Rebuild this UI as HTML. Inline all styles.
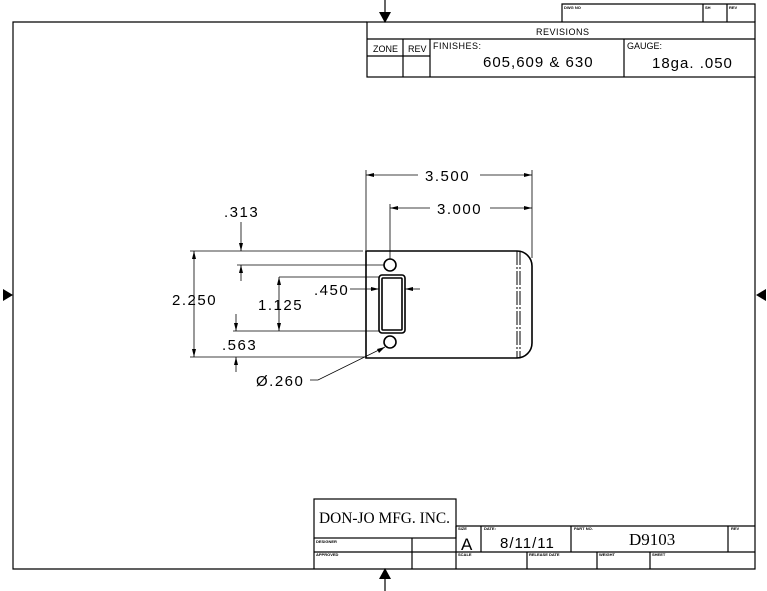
<!DOCTYPE html>
<html><head><style>
html,body{margin:0;padding:0;background:#fff;}
svg{display:block;}
text{font-family:"Liberation Sans",sans-serif;fill:#000;}
.s{font-size:4px;font-weight:bold;}
</style></head><body>
<svg width="767" height="591" viewBox="0 0 767 591" xmlns="http://www.w3.org/2000/svg">
<g stroke="#000" fill="none" stroke-width="1.2">
<polyline points="367,22 13,22 13,569 755,569 755,77"/>
<polyline points="562,22 562,4 755,4 755,22"/>
<line x1="703" y1="4" x2="703" y2="22"/><line x1="727" y1="4" x2="727" y2="22"/>
<rect x="367" y="22" width="388" height="55"/>
<line x1="367" y1="39" x2="755" y2="39"/>
<line x1="367" y1="56" x2="430" y2="56"/>
<line x1="403" y1="39" x2="403" y2="77"/>
<line x1="430" y1="39" x2="430" y2="77"/>
<line x1="624" y1="39" x2="624" y2="77"/>
<rect x="314" y="499" width="142" height="39"/>
<line x1="314" y1="538" x2="314" y2="569"/>
<line x1="314" y1="552" x2="755" y2="552"/>
<line x1="456" y1="526" x2="755" y2="526"/>
<line x1="456" y1="526" x2="456" y2="569"/>
<line x1="412" y1="538" x2="412" y2="569"/>
<line x1="481" y1="526" x2="481" y2="552"/>
<line x1="571" y1="526" x2="571" y2="552"/>
<line x1="728" y1="526" x2="728" y2="552"/>
<line x1="527" y1="552" x2="527" y2="569"/>
<line x1="597" y1="552" x2="597" y2="569"/>
<line x1="650" y1="552" x2="650" y2="569"/>
<line x1="385" y1="0" x2="385" y2="12"/>
<line x1="385" y1="579" x2="385" y2="591"/>
</g>
<g fill="#000">
<polygon points="379,12 391,12 385,23"/>
<polygon points="379,579 391,579 385,568"/>
<polygon points="3,289 3,301 13,295"/>
<polygon points="766,289 766,301 756,295"/>
</g>
<g stroke="#000" fill="none" stroke-width="1.6">
<path d="M366,251 H517 A15,15 0 0 1 532,266 V343 A15,15 0 0 1 517,358 H366 Z"/>
<circle cx="390" cy="265" r="6"/>
<circle cx="390" cy="342" r="6"/>
<rect x="379" y="275" width="26" height="58" rx="3"/>
<rect x="382" y="278" width="20" height="52" rx="1"/>
</g>
<g stroke="#000" stroke-width="0.8" fill="none">
<line x1="517" y1="251" x2="517" y2="358" stroke-dasharray="14,2,2,2" stroke-width="1"/>
<line x1="520" y1="251" x2="520" y2="358" stroke-dasharray="14,2,2,2" stroke-width="1"/>
<line x1="366" y1="170" x2="366" y2="250"/>
<line x1="532" y1="170" x2="532" y2="258"/>
<line x1="366" y1="175" x2="418" y2="175"/><line x1="480" y1="175" x2="532" y2="175"/>
<line x1="390" y1="204" x2="390" y2="259"/>
<line x1="390" y1="208" x2="430" y2="208"/><line x1="490" y1="208" x2="532" y2="208"/>
<line x1="190" y1="251" x2="363" y2="251"/>
<line x1="190" y1="357" x2="366" y2="357"/>
<line x1="194" y1="251" x2="194" y2="357"/>
<line x1="241" y1="222" x2="241" y2="251"/>
<line x1="237" y1="265" x2="384" y2="265"/>
<line x1="241" y1="265" x2="241" y2="281"/>
<line x1="279" y1="277" x2="379" y2="277"/>
<line x1="233" y1="331" x2="379" y2="331"/>
<line x1="279" y1="277" x2="279" y2="331"/>
<line x1="236" y1="314" x2="236" y2="331"/>
<line x1="236" y1="357" x2="236" y2="372"/>
<line x1="350" y1="289" x2="379" y2="289"/>
<line x1="405" y1="289" x2="420" y2="289"/>
<polyline points="310,380 318,380 385,347"/>
</g>
<g fill="#000">
<polygon points="366,175 374,173 374,177"/><polygon points="532,175 524,173 524,177"/>
<polygon points="390,208 398,206 398,210"/><polygon points="532,208 524,206 524,210"/>
<polygon points="194,251 192,259 196,259"/><polygon points="194,357 192,349 196,349"/>
<polygon points="241,251 239,243 243,243"/><polygon points="241,265 239,273 243,273"/>
<polygon points="279,277 277,285 281,285"/><polygon points="279,331 277,323 281,323"/>
<polygon points="236,331 234,323 238,323"/><polygon points="236,357 234,365 238,365"/>
<polygon points="379,289 371,287 371,291"/><polygon points="405,289 413,287 413,291"/>
<polygon points="385,347 377,349 379,353"/>
</g>
<g font-size="15" letter-spacing="1.5">
<text x="425" y="181">3.500</text>
<text x="437" y="214">3.000</text>
<text x="224" y="217">.313</text>
<text x="172" y="305">2.250</text>
<text x="258" y="310">1.125</text>
<text x="314" y="295">.450</text>
<text x="222" y="350">.563</text>
<text x="256" y="386">Ø.260</text>
</g>
<text x="536" y="35" font-size="9" letter-spacing="0.5">REVISIONS</text>
<text x="373" y="52" font-size="9">ZONE</text>
<text x="408" y="52" font-size="9">REV</text>
<text x="433" y="49" font-size="9" letter-spacing="0.5">FINISHES:</text>
<text x="627" y="49" font-size="9">GAUGE:</text>
<text x="483" y="67" font-size="15" letter-spacing="1">605,609 &amp; 630</text>
<text x="652" y="68" font-size="15" letter-spacing="1">18ga.  .050</text>
<text x="564" y="9" class="s">DWG NO</text>
<text x="705" y="9" class="s">SH</text>
<text x="729" y="9" class="s">REV</text>
<text x="319" y="523" font-size="16" textLength="131" lengthAdjust="spacingAndGlyphs" style="font-family:'Liberation Serif',serif">DON-JO MFG. INC.</text>
<text x="316" y="543" class="s">DESIGNER</text>
<text x="316" y="556" class="s">APPROVED</text>
<text x="458" y="530" class="s">SIZE</text>
<text x="484" y="530" class="s">DATE:</text>
<text x="574" y="530" class="s">PART NO.</text>
<text x="731" y="530" class="s">REV</text>
<text x="458" y="556" class="s">SCALE</text>
<text x="529" y="556" class="s">RELEASE DATE</text>
<text x="599" y="556" class="s">WEIGHT</text>
<text x="652" y="556" class="s">SHEET</text>
<text x="461" y="550" font-size="17">A</text>
<text x="500" y="548" font-size="15" letter-spacing="1">8/11/11</text>
<text x="629" y="545" font-size="17" style="font-family:'Liberation Serif',serif">D9103</text>
</svg>
</body></html>
